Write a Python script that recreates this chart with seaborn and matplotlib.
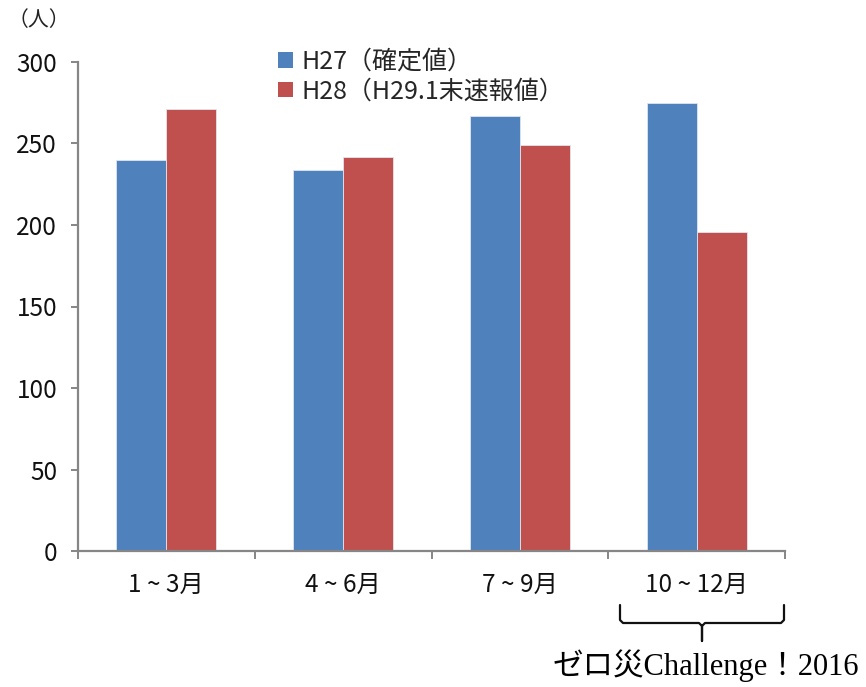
import matplotlib
matplotlib.use("Agg")
import matplotlib.pyplot as plt
from matplotlib.lines import Line2D
from matplotlib.patches import Patch
import seaborn as sns
import pandas as pd
import numpy as np

# Quarterly counts (persons)
quarters = ["1 ~ 3月", "4 ~ 6月", "7 ~ 9月", "10 ~ 12月"]
series_names = ["H27（確定値）", "H28（H29.1末速報値）"]
h27_values = [240, 234, 267, 275]
h28_values = [271, 242, 249, 196]
y_ticks = [0, 50, 100, 150, 200, 250, 300]

colors = ["#4F81BD", "#C0504D"]

df = pd.DataFrame({
    "quarter": quarters * 2,
    "series": [series_names[0]] * len(quarters) + [series_names[1]] * len(quarters),
    "value": h27_values + h28_values,
})

sns.set_theme(style="white")
plt.rcParams["font.family"] = ["Noto Sans CJK JP", "DejaVu Sans"]

W, H = 866, 687
fig = plt.figure(figsize=(W / 100, H / 100), dpi=100)
ax = fig.add_axes([78 / W, 1 - 551 / H, (785 - 78) / W, (551 - 62) / H])

sns.barplot(data=df, x="quarter", y="value", hue="series", order=quarters,
            hue_order=series_names, palette=colors, width=0.565, gap=0,
            saturation=1, edgecolor="#dfe6f0", linewidth=0.6, ax=ax, legend=False)

ax.set_xlim(-0.5, len(quarters) - 0.5)
ax.set_ylim(0, 300)
ax.set_yticks(y_ticks)
ax.set_xlabel("")
ax.set_ylabel("")

for side in ["top", "right"]:
    ax.spines[side].set_visible(False)
for side in ["left", "bottom"]:
    ax.spines[side].set_color("#868686")
    ax.spines[side].set_linewidth(1.6)

ax.tick_params(axis="y", which="major", direction="out", length=5, width=1.4,
               color="#868686", left=True, labelsize=17.5, pad=10)
ax.tick_params(axis="x", which="major", length=0, labelsize=17.5, pad=15)
ax.set_xticks(np.arange(-0.5, len(quarters)), minor=True)
ax.tick_params(axis="x", which="minor", direction="out", length=6, width=1.4,
               color="#868686", bottom=True)
for lab in ax.get_xticklabels() + ax.get_yticklabels():
    lab.set_color("#111111")

# Unit label
fig.text(8 / W, 1 - 20 / H, "（人）", fontsize=15, ha="left", va="center", color="#222222")

# Legend
handles = [Patch(facecolor=c, edgecolor="none") for c in colors]
fig.legend(handles, series_names, loc="upper left",
           bbox_to_anchor=(265 / W, 1 - 36 / H), frameon=False, fontsize=18,
           handlelength=0.6, handleheight=0.6, handletextpad=0.35,
           labelspacing=0.15, borderpad=0)

# Brace under the last quarter
def px(x, y):
    return x / W, 1 - y / H

brace_x = [620, 620, 623, 699, 702, 702, 702, 705, 781, 784, 784]
brace_y = [605, 620, 623, 623, 626, 641, 626, 623, 623, 620, 605]
xs, ys = zip(*[px(x, y) for x, y in zip(brace_x, brace_y)])
fig.add_artist(Line2D(xs, ys, transform=fig.transFigure, color="#111111", lw=1.6,
                      solid_joinstyle="round"))

fig.text(*px(706, 666), "ゼロ災Challenge！2016", ha="center", va="center",
         fontsize=22, color="#000000",
         family=["Liberation Serif", "Noto Sans CJK JP"])

fig.savefig("out.png", dpi=100, facecolor="white")
